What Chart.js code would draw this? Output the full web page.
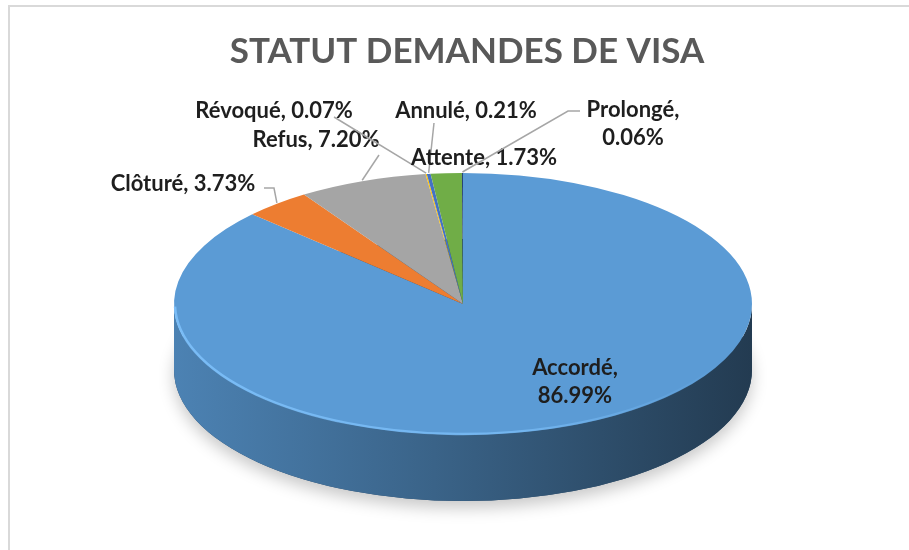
<!DOCTYPE html>
<html>
<head>
<meta charset="utf-8">
<script src="https://cdn.jsdelivr.net/npm/chart.js@4.4.1/dist/chart.umd.min.js"></script>
<style>
body { margin: 0; background: #fff; }
</style>
</head>
<body>
<canvas id="grafico" width="909" height="550"></canvas>
<script>
const titre = 'STATUT DEMANDES DE VISA'
const categories = ['Accordé', 'Clôturé', 'Refus', 'Révoqué', 'Annulé', 'Attente', 'Prolongé']
const pourcentages = [86.99, 3.73, 7.20, 0.07, 0.21, 1.73, 0.06]
const couleurs = ['#5B9BD5', '#ED7D31', '#A5A5A5', '#FFC000', '#4472C4', '#70AD47', '#264478']

// mise en page du camembert 3D (centre, rayons, epaisseur)
const CX = 463, CY = 304, RX = 289, RY = 131, PROF = 66

// position des etiquettes : centre du texte, sur une ou deux lignes, depart du trait de rappel
const etiquettes = [
    { x: 575, y: 368, deuxLignes: true },
    { x: 183, y: 184, trait: [[264, 188], [274, 188]] },
    { x: 316, y: 140, trait: [[379, 155]] },
    { x: 274, y: 111, trait: [[334, 117]] },
    { x: 466, y: 111, trait: [[434, 123]] },
    { x: 484, y: 158 },
    { x: 633, y: 110, deuxLignes: true, trait: [[580, 111], [568, 111]] }
]

function assombrir(hex, f) {
    const n = parseInt(hex.slice(1), 16)
    const r = Math.round(((n >> 16) & 255) * f)
    const g = Math.round(((n >> 8) & 255) * f)
    const b = Math.round((n & 255) * f)
    return `rgb(${r},${g},${b})`
}

const cadre = {
    id: 'cadre',
    beforeDraw(chart) {
        const ctx = chart.ctx
        ctx.save()
        ctx.strokeStyle = '#d9d9d9'
        ctx.lineWidth = 2
        ctx.beginPath()
        ctx.moveTo(9, 550)
        ctx.lineTo(9, 6)
        ctx.lineTo(909, 6)
        ctx.stroke()
        ctx.restore()
    }
}

const pie3d = {
    id: 'pie3d',
    beforeDatasetsDraw(chart) {
        const ctx = chart.ctx
        const arcs = chart.getDatasetMeta(0).data

        // ombre portee sous le disque
        ctx.save()
        ctx.shadowColor = 'rgba(0,0,0,0.22)'
        ctx.shadowBlur = 16
        ctx.shadowOffsetY = 7
        ctx.beginPath()
        ctx.ellipse(CX, CY + PROF, RX, RY, 0, 0, 2 * Math.PI)
        ctx.fillStyle = '#2b4a68'
        ctx.fill()
        ctx.restore()

        // faces laterales (moitie avant seulement)
        arcs.forEach((arc, i) => {
            const a0 = Math.max(arc.startAngle, 0)
            const a1 = Math.min(arc.endAngle, Math.PI)
            if (a1 <= a0) return
            const grad = ctx.createLinearGradient(CX - RX, 0, CX + RX, 0)
            grad.addColorStop(0, assombrir(couleurs[i], 0.84))
            grad.addColorStop(0.45, assombrir(couleurs[i], 0.64))
            grad.addColorStop(1, assombrir(couleurs[i], 0.38))
            ctx.beginPath()
            ctx.ellipse(CX, CY, RX, RY, 0, a0, a1)
            ctx.ellipse(CX, CY + PROF, RX, RY, 0, a1, a0, true)
            ctx.closePath()
            ctx.fillStyle = grad
            ctx.fill()
        })

        // ecrasement du disque pour l'effet de perspective
        const a = arcs[0]
        ctx.save()
        ctx.translate(CX, CY)
        ctx.scale(RX / a.outerRadius, RY / a.outerRadius)
        ctx.translate(-a.x, -a.y)
    },
    afterDatasetsDraw(chart) {
        const ctx = chart.ctx
        ctx.restore()
        const arcs = chart.getDatasetMeta(0).data

        // reflet sur le bord avant
        const g = ctx.createLinearGradient(CX - RX, 0, CX + RX, 0)
        g.addColorStop(0, 'rgba(125,192,250,0.9)')
        g.addColorStop(0.6, 'rgba(125,192,250,0.7)')
        g.addColorStop(0.95, 'rgba(125,192,250,0)')
        ctx.save()
        ctx.strokeStyle = g
        ctx.lineWidth = 2.5
        ctx.beginPath()
        ctx.ellipse(CX, CY, RX - 1, RY - 1, 0, 0.05, Math.PI - 0.02)
        ctx.stroke()
        ctx.restore()

        // etiquettes et traits de rappel
        ctx.save()
        ctx.font = 'bold 22px Lato'
        ctx.fillStyle = '#1e1e1e'
        ctx.textAlign = 'center'
        ctx.textBaseline = 'middle'
        arcs.forEach((arc, i) => {
            const e = etiquettes[i]
            const val = pourcentages[i].toFixed(2) + '%'
            if (e.deuxLignes) {
                ctx.fillText(categories[i] + ',', e.x, e.y)
                ctx.fillText(val, e.x, e.y + 28)
            } else {
                ctx.fillText(categories[i] + ', ' + val, e.x, e.y)
            }
            if (e.trait) {
                const m = (arc.startAngle + arc.endAngle) / 2
                const px = CX + RX * Math.cos(m)
                const py = CY + RY * Math.sin(m) - 1
                ctx.strokeStyle = '#a6a6a6'
                ctx.lineWidth = 1.5
                ctx.beginPath()
                ctx.moveTo(e.trait[0][0], e.trait[0][1])
                e.trait.slice(1).forEach(p => ctx.lineTo(p[0], p[1]))
                ctx.lineTo(px, py)
                ctx.stroke()
            }
        })
        ctx.restore()
    }
}

const ctx = document.getElementById('grafico')
new Chart(ctx, {
    type: 'pie',
    data: {
        labels: categories,
        datasets: [{
            data: pourcentages,
            backgroundColor: couleurs,
            borderWidth: 0
        }]
    },
    options: {
        responsive: false,
        animation: false,
        events: [],
        layout: { padding: { left: 25 } },
        plugins: {
            legend: { display: false },
            tooltip: { enabled: false },
            title: {
                display: true,
                text: titre,
                color: '#595959',
                font: { family: 'Lato', size: 35, weight: 'bold' },
                padding: { top: 31, bottom: 10 }
            }
        }
    },
    plugins: [cadre, pie3d]
})
</script>
</body>
</html>
